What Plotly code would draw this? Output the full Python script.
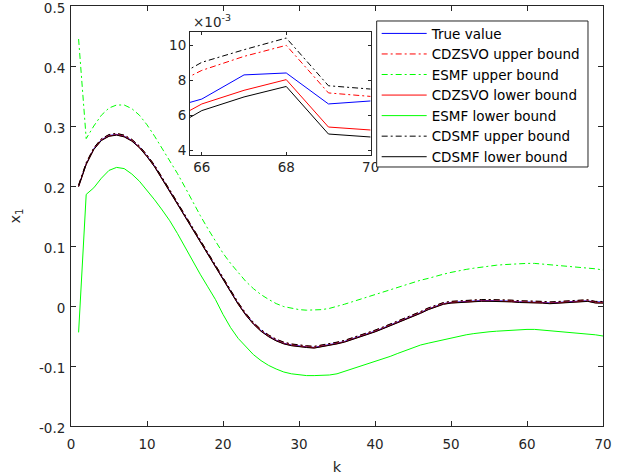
import plotly.graph_objects as go

k = list(range(1, 71))

true_value = [0.200, 0.237, 0.262, 0.277, 0.284, 0.286, 0.283, 0.276, 0.265, 0.250,
              0.233, 0.213, 0.192, 0.171, 0.150, 0.129, 0.108, 0.087, 0.066, 0.045,
              0.024, 0.004, -0.014, -0.029, -0.041, -0.050, -0.057, -0.062, -0.065, -0.067,
              -0.068, -0.069, -0.067, -0.065, -0.062, -0.059, -0.055, -0.051, -0.046, -0.042,
              -0.037, -0.032, -0.026, -0.021, -0.016, -0.011, -0.005, 0.000, 0.004, 0.006,
              0.007, 0.008, 0.008, 0.009, 0.009, 0.009, 0.008, 0.008, 0.007, 0.007,
              0.006, 0.006, 0.005, 0.006, 0.00627, 0.00695, 0.00833, 0.00844, 0.00667, 0.00684]

cdzsvo_upper = [0.2014, 0.2384, 0.2634, 0.2784, 0.2854, 0.2874, 0.2844, 0.2774, 0.2664, 0.2514,
                0.2344, 0.2144, 0.1934, 0.1724, 0.1514, 0.1304, 0.1094, 0.0884, 0.0674, 0.0464,
                0.0254, 0.0054, -0.0126, -0.0276, -0.0396, -0.0486, -0.0556, -0.0606, -0.0636, -0.0656,
                -0.0666, -0.0676, -0.0656, -0.0636, -0.0606, -0.0576, -0.0536, -0.0496, -0.0446, -0.0406,
                -0.0356, -0.0306, -0.0246, -0.0196, -0.0146, -0.0096, -0.0036, 0.0014, 0.0054, 0.0074,
                0.0084, 0.0094, 0.0094, 0.0104, 0.0104, 0.0104, 0.0094, 0.0094, 0.0084, 0.0084,
                0.0074, 0.0074, 0.0064, 0.0074, 0.00738, 0.00859, 0.00939, 0.01002, 0.00730, 0.00710]

esmf_upper = [0.445, 0.279, 0.300, 0.318, 0.330, 0.335, 0.335, 0.329, 0.318, 0.302,
              0.283, 0.263, 0.243, 0.221, 0.198, 0.174, 0.151, 0.129, 0.108, 0.088,
              0.071, 0.055, 0.041, 0.029, 0.019, 0.011, 0.004, -0.001, -0.004, -0.006,
              -0.007, -0.007, -0.006, -0.004, -0.001, 0.003, 0.007, 0.011, 0.016, 0.020,
              0.024, 0.028, 0.031, 0.035, 0.039, 0.043, 0.046, 0.050, 0.053, 0.056,
              0.059, 0.061, 0.063, 0.065, 0.066, 0.068, 0.069, 0.070, 0.071, 0.071,
              0.071, 0.070, 0.069, 0.068, 0.067, 0.066, 0.065, 0.064, 0.062, 0.060]

cdzsvo_lower = [0.1992, 0.2362, 0.2612, 0.2762, 0.2832, 0.2852, 0.2822, 0.2752, 0.2642, 0.2492,
                0.2322, 0.2122, 0.1912, 0.1702, 0.1492, 0.1282, 0.1072, 0.0862, 0.0652, 0.0442,
                0.0232, 0.0032, -0.0148, -0.0298, -0.0418, -0.0508, -0.0578, -0.0628, -0.0658, -0.0678,
                -0.0688, -0.0698, -0.0678, -0.0658, -0.0628, -0.0598, -0.0558, -0.0518, -0.0468, -0.0428,
                -0.0378, -0.0328, -0.0268, -0.0218, -0.0168, -0.0118, -0.0058, -0.0008, 0.0032, 0.0052,
                0.0062, 0.0072, 0.0072, 0.0082, 0.0082, 0.0082, 0.0072, 0.0072, 0.0062, 0.0062,
                0.0052, 0.0052, 0.0042, 0.0052, 0.00535, 0.00667, 0.00745, 0.00806, 0.00535, 0.00518]

esmf_lower = [-0.044, 0.186, 0.197, 0.213, 0.226, 0.231, 0.229, 0.220, 0.208, 0.193,
              0.177, 0.160, 0.142, 0.121, 0.098, 0.075, 0.053, 0.032, 0.011, -0.014,
              -0.036, -0.054, -0.068, -0.081, -0.091, -0.099, -0.105, -0.110, -0.113, -0.115,
              -0.116, -0.116, -0.116, -0.115, -0.113, -0.109, -0.104, -0.100, -0.096, -0.092,
              -0.088, -0.084, -0.079, -0.074, -0.069, -0.065, -0.062, -0.059, -0.057, -0.054,
              -0.051, -0.048, -0.046, -0.044, -0.043, -0.042, -0.041, -0.040, -0.039, -0.039,
              -0.039, -0.040, -0.041, -0.042, -0.043, -0.044, -0.045, -0.046, -0.048, -0.050]

cdsmf_upper = [0.2018, 0.2388, 0.2638, 0.2788, 0.2858, 0.2878, 0.2848, 0.2778, 0.2668, 0.2518,
               0.2348, 0.2148, 0.1938, 0.1728, 0.1518, 0.1308, 0.1098, 0.0888, 0.0678, 0.0468,
               0.0258, 0.0058, -0.0122, -0.0272, -0.0392, -0.0482, -0.0552, -0.0602, -0.0632, -0.0652,
               -0.0662, -0.0672, -0.0652, -0.0632, -0.0602, -0.0572, -0.0532, -0.0492, -0.0442, -0.0402,
               -0.0352, -0.0302, -0.0242, -0.0192, -0.0142, -0.0092, -0.0032, 0.0018, 0.0058, 0.0078,
               0.0088, 0.0098, 0.0098, 0.0108, 0.0108, 0.0108, 0.0098, 0.0098, 0.0088, 0.0088,
               0.0078, 0.0078, 0.0068, 0.0078, 0.00769, 0.00905, 0.00977, 0.01044, 0.00771, 0.00752]

cdsmf_lower = [0.1988, 0.2358, 0.2608, 0.2758, 0.2828, 0.2848, 0.2818, 0.2748, 0.2638, 0.2488,
               0.2318, 0.2118, 0.1908, 0.1698, 0.1488, 0.1278, 0.1068, 0.0858, 0.0648, 0.0438,
               0.0228, 0.0028, -0.0152, -0.0302, -0.0422, -0.0512, -0.0582, -0.0632, -0.0662, -0.0682,
               -0.0692, -0.0702, -0.0682, -0.0662, -0.0632, -0.0602, -0.0562, -0.0522, -0.0472, -0.0432,
               -0.0382, -0.0332, -0.0272, -0.0222, -0.0172, -0.0122, -0.0062, -0.0012, 0.0028, 0.0048,
               0.0058, 0.0068, 0.0068, 0.0078, 0.0078, 0.0078, 0.0068, 0.0068, 0.0058, 0.0058,
               0.0048, 0.0048, 0.0038, 0.0048, 0.00490, 0.00629, 0.00707, 0.00767, 0.00495, 0.00478]

main_yticks = [-0.2, -0.1, 0, 0.1, 0.2, 0.3, 0.4, 0.5]
main_yticktext = ["-0.2", "-0.1", "0", "0.1", "0.2", "0.3", "0.4", "0.5"]
main_xticks = [0, 10, 20, 30, 40, 50, 60, 70]
inset_xticks = [66, 68, 70]
inset_yticks = [0.004, 0.006, 0.008, 0.010]
inset_yticktext = ["4", "6", "8", "10"]

DD = "6px,3px,2px,3px"
series = [
    ("True value", true_value, "#0000FF", "solid", True),
    ("CDZSVO upper bound", cdzsvo_upper, "#FF0000", DD, True),
    ("ESMF upper bound", esmf_upper, "#00FF00", DD, False),
    ("CDZSVO lower bound", cdzsvo_lower, "#FF0000", "solid", True),
    ("ESMF lower bound", esmf_lower, "#00FF00", "solid", False),
    ("CDSMF upper bound", cdsmf_upper, "#000000", DD, True),
    ("CDSMF lower bound", cdsmf_lower, "#000000", "solid", True),
]

fig = go.Figure()
for name, vals, col, dash, inset in series:
    fig.add_trace(go.Scatter(x=k, y=vals, mode="lines", name=name,
                             line=dict(color=col, width=1, dash=dash),
                             xaxis="x", yaxis="y"))
for name, vals, col, dash, inset in series:
    if inset:
        fig.add_trace(go.Scatter(x=k[63:], y=vals[63:], mode="lines", name=name,
                                 showlegend=False,
                                 line=dict(color=col, width=1, dash=dash),
                                 xaxis="x2", yaxis="y2"))

axcol = "#262626"
FONT = "DejaVu Sans, sans-serif"
FS = 13.5
common = dict(showgrid=False, zeroline=False, showline=True, linecolor=axcol,
              linewidth=1, mirror="ticks", ticks="inside", tickcolor=axcol,
              automargin=False, ticklabeloverflow="allow",
              tickfont=dict(family=FONT, size=FS, color=axcol))

fig.update_layout(
    width=621, height=476,
    margin=dict(l=71, r=18, t=6, b=50),
    paper_bgcolor="white", plot_bgcolor="white",
    font=dict(family=FONT, size=FS, color=axcol),
    xaxis=dict(range=[0, 70], tickvals=main_xticks, ticklen=5, domain=[0, 1],
               ticklabelstandoff=6,
               title=dict(text="k", font=dict(size=FS + 1), standoff=10), **common),
    yaxis=dict(range=[-0.2, 0.5], tickvals=main_yticks, ticktext=main_yticktext,
               ticklen=5, domain=[0, 1], ticklabelstandoff=2, ticklabelshift=2,
               title=dict(text="x<sub>1</sub>", font=dict(size=FS + 1), standoff=14), **common),
    xaxis2=dict(range=[65.72, 70], tickvals=inset_xticks, ticklen=3,
                domain=[0.2237, 0.5633], anchor="y2", **common),
    yaxis2=dict(range=[0.00375, 0.0108], tickvals=inset_yticks, ticktext=inset_yticktext,
                ticklen=3, domain=[0.6452, 0.9388], anchor="x2", **common),
    legend=dict(x=0.5746, y=0.9711, xanchor="left", yanchor="top",
                bgcolor="rgba(0,0,0,0)", borderwidth=0,
                font=dict(family=FONT, size=FS, color="#000000"),
                itemwidth=45, tracegroupgap=0),
    shapes=[dict(type="rect", xref="paper", yref="paper",
                 x0=0.5746, x1=0.9718, y0=0.6167, y1=0.9643,
                 line=dict(color=axcol, width=1), fillcolor="white", layer="above")],
    annotations=[dict(text="×10<sup>-3</sup>", xref="paper", yref="paper",
                      x=0.2256, y=0.965, xanchor="left", yanchor="middle",
                      showarrow=False, font=dict(family=FONT, size=FS, color=axcol))],
    showlegend=True,
)

fig.write_html("out.html", config={"displayModeBar": False},
               post_script="document.body.style.margin='0';")
